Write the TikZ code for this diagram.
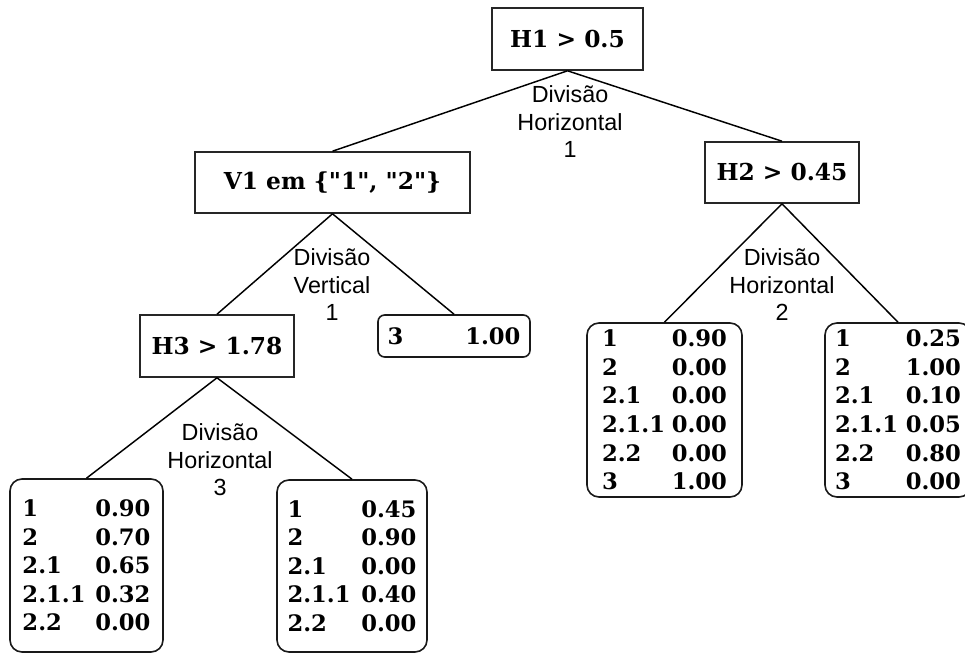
\documentclass[tikz,border=0pt]{standalone}
\usepackage{fontspec}
% no TeX ligatures here, so " stays a straight quote
\newfontfamily\nodefont{DejaVu Serif}
\newfontfamily\labfont{Liberation Sans}
\tikzset{
  every picture/.style={x=0.75pt,y=-0.75pt},
  test/.style={draw=black!85,line width=1.2pt,inner sep=0pt,align=center,
    font=\nodefont\bfseries\fontsize{17.5}{20}\selectfont},
  leaf/.style={draw=black!90,line width=1.2pt,rounded corners=9pt,inner sep=0pt,
    align=left,font=\nodefont\bfseries\fontsize{17}{21.4}\selectfont},
  split/.style={align=center,inner sep=0pt,font=\labfont\fontsize{17.5}{20.6}\selectfont},
  edge/.style={draw=black,line width=1.1pt}
}
\begin{document}
\begin{tikzpicture}
\useasboundingbox (0,0) rectangle (965,653);
\clip (0,0) rectangle (965,653);

% decision nodes
\node[test,minimum width=113.25pt,minimum height=46.5pt] (h1) at (567.5,39) {H1 > 0.5};
\node[test,minimum width=206.25pt,minimum height=45.75pt] (v1) at (332.5,182.5) {V1 em \{"1", "2"\}};
\node[test,minimum width=115.5pt,minimum height=45.75pt] (h2) at (782,172.5) {H2 > 0.45};
\node[test,minimum width=115.5pt,minimum height=46.5pt] (h3) at (217,346) {H3 > 1.78};

% leaves
\node[leaf,rounded corners=5pt,minimum width=114pt,minimum height=31.5pt,text width=99.75pt] (l3) at (454,336) {3\hfill 1.00};
\node[leaf,minimum width=116.25pt,minimum height=130.5pt,text width=93.75pt] (l2a) at (664.5,410)
  {1\hfill 0.90\\2\hfill 0.00\\2.1\hfill 0.00\\2.1.1\hfill 0.00\\2.2\hfill 0.00\\3\hfill 1.00};
\node[leaf,minimum width=109.5pt,minimum height=130.5pt,text width=94.5pt] (l2b) at (898,410)
  {1\hfill 0.25\\2\hfill 1.00\\2.1\hfill 0.10\\2.1.1\hfill 0.05\\2.2\hfill 0.80\\3\hfill 0.00};
\node[leaf,minimum width=114.75pt,minimum height=129.75pt,text width=96pt] (l3a) at (86.5,565.5)
  {1\hfill 0.90\\2\hfill 0.70\\2.1\hfill 0.65\\2.1.1\hfill 0.32\\2.2\hfill 0.00};
\node[leaf,minimum width=112.5pt,minimum height=129pt,text width=96.75pt] (l3b) at (352,566)
  {1\hfill 0.45\\2\hfill 0.90\\2.1\hfill 0.00\\2.1.1\hfill 0.40\\2.2\hfill 0.00};

% branches
\draw[edge] (h1.south) -- (v1.north);
\draw[edge] (h1.south) -- (h2.north);
\draw[edge] (v1.south) -- (h3.north);
\draw[edge] (v1.south) -- (l3.north);
\draw[edge] (h2.south) -- (l2a.north);
\draw[edge] (h2.south) -- (l2b.north);
\draw[edge] (h3.south) -- (l3a.north);
\draw[edge] (h3.south) -- (l3b.north);

% split labels
\node[split] (s1) at (570,122) {Divisão\\Horizontal\\1};
\node[split] (s2) at (332,285) {Divisão\\Vertical\\1};
\node[split] (s3) at (782,285) {Divisão\\Horizontal\\2};
\node[split] (s4) at (220,460) {Divisão\\Horizontal\\3};
\end{tikzpicture}
\end{document}
